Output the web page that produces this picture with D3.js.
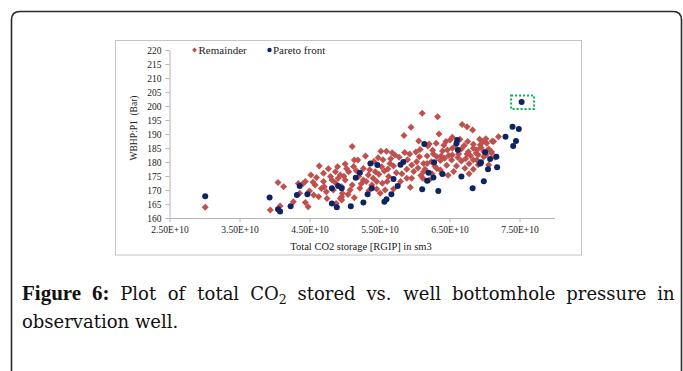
<!DOCTYPE html>
<html>
<head>
<meta charset="utf-8">
<script src="https://cdn.jsdelivr.net/npm/d3@7/dist/d3.min.js"></script>
<style>
  html, body { margin: 0; padding: 0; background: #fff; }
  svg { display: block; }
</style>
</head>
<body>
<svg id="chart" width="683" height="371"></svg>
<script>
// ---- data (x in sm3, y in bar) ----
const remainderX = [
  3.01e10,3.94e10,4.05e10,4.13e10,4.08e10,4.27e10,4.34e10,4.41e10,4.36e10,4.50e10,4.44e10,4.48e10,4.52e10,
  6.11e10,5.95e10,5.85e10,6.06e10,6.08e10,6.19e10,5.11e10,5.30e10,5.14e10,5.19e10,5.52e10,5.60e10,5.68e10,5.72e10,
  5.93e10,6.07e10,6.18e10,5.01e10,4.64e10,4.70e10,4.87e10,4.94e10,5.06e10,5.27e10,5.34e10,5.44e10,5.53e10,
  5.65e10,5.89e10,5.96e10,6.03e10,6.13e10,6.18e10,4.44e10,4.58e10,4.70e10,4.82e10,4.91e10,5.01e10,5.11e10,
  5.20e10,5.27e10,5.39e10,5.46e10,5.61e10,5.63e10,5.58e10,5.51e10,5.80e10,5.89e10,5.94e10,4.56e10,4.63e10,
  4.74e10,4.84e10,4.96e10,5.08e10,5.22e10,4.75e10,4.88e10,4.96e10,4.87e10,4.96e10,
  6.33e10,6.68e10,6.75e10,6.83e10,6.35e10,6.45e10,6.51e10,6.54e10,6.65e10,6.31e10,6.21e10,6.76e10,6.84e10,
  6.93e10,7.02e10,7.11e10,7.20e10,7.03e10,6.94e10,6.40e10,6.47e10,6.54e10,6.67e10,6.77e10,6.84e10,6.89e10,
  6.95e10,7.06e10,7.10e10,6.99e10,6.27e10,6.38e10,6.54e10,6.63e10,6.75e10,6.88e10,7.02e10,7.15e10,6.13e10,
  6.24e10,6.37e10,6.53e10,6.67e10,6.84e10,6.99e10,7.06e10,6.15e10,6.32e10,6.37e10,6.60e10,6.84e10,6.12e10,
  6.21e10,6.39e10,
  4.94e10,4.97e10,5.96e10,6.32e10,6.89e10,7.13e10,7.10e10,
  5.42e10,5.48e10,5.55e10,5.57e10,5.62e10,5.66e10,5.70e10,5.74e10,5.78e10,5.82e10,5.86e10,5.90e10,5.99e10,
  6.02e10,6.05e10,6.09e10,5.36e10,5.41e10,5.49e10,5.31e10,5.24e10,5.17e10,5.13e10,5.03e10,4.99e10,4.90e10,
  4.80e10,4.77e10,4.67e10,4.60e10,4.55e10,4.71e10,5.05e10,5.14e10,5.35e10,5.46e10,5.70e10,5.54e10,
  6.26e10,6.42e10,6.49e10,6.58e10,6.62e10,6.71e10,6.73e10,6.80e10,6.91e10,6.97e10,6.46e10,6.56e10,6.72e10,
  6.78e10,6.91e10,6.43e10,6.29e10,6.48e10,6.25e10,6.78e10
];
const remainderY = [
  163.8,162.9,172.7,171.2,164.3,165.8,172.3,172.3,168.8,169.6,165.5,164.0,175.4,
  197.4,192.4,189.5,187.5,184.5,185.7,185.5,182.1,180.7,180.7,183.8,183.8,183.3,182.5,
  182.9,181.9,182.1,179.3,178.6,176.0,176.5,175.4,176.5,177.7,175.4,176.5,178.3,
  179.5,177.4,178.9,180.1,176.5,179.5,173.0,171.8,173.0,173.6,174.2,173.6,171.8,
  174.8,173.6,171.8,173.0,173.0,174.8,170.0,168.8,173.0,174.2,171.0,168.2,167.6,
  169.4,170.0,167.6,170.0,170.6,167.0,165.2,166.4,172.6,171.2,
  196.2,193.4,192.6,191.4,190.0,187.3,187.9,188.8,188.1,186.7,186.4,187.3,186.3,
  188.1,188.3,187.4,189.0,186.7,186.1,183.9,184.3,184.9,184.6,183.7,184.9,184.3,
  185.1,184.6,183.7,183.7,182.9,182.1,182.5,182.9,182.9,183.1,182.5,181.7,179.5,
  180.1,180.5,180.7,180.4,180.7,181.9,178.9,177.4,177.7,177.1,178.6,177.4,174.2,
  173.6,175.9,
  167.0,168.8,174.2,181.9,180.7,187.3,183.1,
  180.2,181.5,180.8,176.8,177.5,181.2,178.6,176.2,181.7,175.8,183.4,180.8,176.6,
  183.6,177.9,175.2,177.2,174.2,175.6,173.0,172.2,176.9,178.4,177.6,174.9,178.3,
  174.8,177.6,170.5,174.5,172.8,171.2,168.4,167.2,169.8,170.4,170.4,172.4,
  184.2,186.0,182.3,185.7,181.6,185.9,181.2,182.2,182.6,187.2,178.8,176.6,177.8,
  179.4,179.0,181.3,178.5,175.3,175.8,175.8
];
const paretoX = [
  3.01e10,3.93e10,4.05e10,4.08e10,4.23e10,4.36e10,4.32e10,4.47e10,4.82e10,4.91e10,4.96e10,4.82e10,4.89e10,
  5.09e10,5.16e10,5.22e10,5.27e10,5.33e10,5.37e10,5.39e10,5.47e10,5.57e10,5.60e10,5.67e10,5.70e10,5.76e10,
  5.80e10,5.84e10,6.11e10,6.14e10,6.18e10,6.20e10,6.27e10,6.28e10,6.34e10,6.40e10,6.60e10,6.61e10,6.62e10,
  6.67e10,6.83e10,6.94e10,6.95e10,6.99e10,7.01e10,7.05e10,7.08e10,7.17e10,7.18e10,7.30e10,7.40e10,7.41e10,
  7.45e10,7.49e10,7.53e10
];
const paretoY = [
  167.8,167.3,163.1,162.3,164.2,171.4,168.2,168.5,170.6,171.4,170.6,165.2,163.8,
  164.2,174.4,176.2,165.5,168.5,179.5,170.6,178.9,165.8,166.7,168.5,173.9,171.4,
  179.0,180.0,170.3,186.4,173.3,176.2,174.5,179.9,169.6,175.7,186.7,187.9,184.3,
  174.8,170.6,179.5,179.9,173.1,183.5,177.4,181.1,181.9,178.1,189.0,192.6,185.7,
  187.5,191.8,201.4
];
const highlightPoint = [7.53e10, 201.4];
const xTickValues = [2.5e10, 3.5e10, 4.5e10, 5.5e10, 6.5e10, 7.5e10];
const yTickValues = [160,165,170,175,180,185,190,195,200,205,210,215,220];
const seriesNames = ["Remainder", "Pareto front"];
const axisTitles = ["Total CO2 storage [RGIP] in sm3", "WBHP:P1  (Bar)"];
const captionLabel = ["Figure", "6:"];
const captionLine1 = ["Plot", "of", "total", "CO|2", "stored", "vs.", "well", "bottomhole", "pressure", "in"];
const captionLine2 = "observation well.";

// ---- drawing ----
const svg = d3.select("#chart");
const RED = "#c0504d", BLUE = "#0c2461";
const serif = "'Liberation Serif', 'Times New Roman', serif";

// outer page frame
svg.append("path")
  .attr("d", "M11.5,380 V20 Q11.5,11.5 20,11.5 H673 Q681.5,11.5 681.5,20 V380")
  .attr("fill", "none").attr("stroke", "#2b2b2b").attr("stroke-width", 1.6);

// chart area frame
svg.append("rect").attr("x", 115.5).attr("y", 40.5).attr("width", 466).attr("height", 214.5)
  .attr("fill", "#fff").attr("stroke", "#c4c4c4").attr("stroke-width", 1);

const x = d3.scaleLinear().domain([2.5e10, 8.0e10]).range([169.5, 554.5]);
const y = d3.scaleLinear().domain([160, 220]).range([218, 50]);

const fmt = v => (v / 1e10).toFixed(2) + "E+10";

const gx = svg.append("g").attr("transform", "translate(0,218)")
  .call(d3.axisBottom(x).tickValues(xTickValues).tickFormat(fmt).tickSizeInner(4).tickSizeOuter(0).tickPadding(4));
const gy = svg.append("g").attr("transform", "translate(169.5,0)")
  .call(d3.axisLeft(y).tickValues(yTickValues).tickSizeInner(4).tickSizeOuter(0).tickPadding(4));
[gx, gy].forEach(g => {
  g.select(".domain").attr("stroke", "#b3b3b3");
  g.selectAll(".tick line").attr("stroke", "#b3b3b3");
  g.selectAll(".tick text").attr("fill", "#222").attr("font-family", serif).attr("font-size", 9.5);
});

// axis titles
svg.append("text").attr("x", 361).attr("y", 250).attr("text-anchor", "middle")
  .attr("font-family", serif).attr("font-size", 10.5).attr("fill", "#222").text(axisTitles[0]);
svg.append("text").attr("transform", "translate(137,128) rotate(-90)").attr("text-anchor", "middle")
  .attr("font-family", serif).attr("font-size", 9.5).attr("fill", "#222")
  .attr("xml:space", "preserve").style("white-space", "pre").text(axisTitles[1]);

// markers
const diamond = (s) => `M0,${-s}L${s},0L0,${s}L${-s},0Z`;
const remainder = d3.range(remainderX.length).map(i => [remainderX[i], remainderY[i]]);
const pareto = d3.range(paretoX.length).map(i => [paretoX[i], paretoY[i]]);

svg.append("g").selectAll("path").data(remainder).join("path")
  .attr("d", diamond(3.5))
  .attr("transform", d => `translate(${x(d[0])},${y(d[1])})`)
  .attr("fill", RED);

svg.append("g").selectAll("circle").data(pareto).join("circle")
  .attr("cx", d => x(d[0])).attr("cy", d => y(d[1])).attr("r", 3)
  .attr("fill", BLUE);

// highlight box
svg.append("rect")
  .attr("x", x(highlightPoint[0]) - 10.5).attr("y", y(highlightPoint[1]) - 6.5)
  .attr("width", 23).attr("height", 13.5)
  .attr("fill", "none").attr("stroke", "#00b050").attr("stroke-width", 2).attr("stroke-dasharray", "2,2");

// legend
const lg = svg.append("g");
lg.append("path").attr("d", diamond(2.4)).attr("transform", "translate(194.5,50)").attr("fill", RED);
lg.append("text").attr("x", 198.5).attr("y", 53.5).attr("font-family", serif).attr("font-size", 11)
  .attr("fill", "#222").text(seriesNames[0]);
lg.append("circle").attr("cx", 269.5).attr("cy", 50).attr("r", 2.2).attr("fill", BLUE);
lg.append("text").attr("x", 273).attr("y", 53.5).attr("font-family", serif).attr("font-size", 11)
  .attr("fill", "#222").text(seriesNames[1]);

// caption (justified first line)
const capFont = "'DejaVu Serif', serif";
const capSize = 18;
const words = [];
captionLabel.forEach(w => words.push({ w, bold: true }));
captionLine1.forEach(w => words.push({ w, bold: false }));
const cap = svg.append("g");
const nodes = words.map(o => {
  const t = cap.append("text").attr("y", 300)
    .attr("font-family", o.bold ? "'Liberation Serif', serif" : capFont)
    .attr("font-size", o.bold ? 21 : capSize)
    .attr("fill", "#111").attr("font-weight", o.bold ? "bold" : "normal");
  if (o.w.includes("|")) {
    const [a, b] = o.w.split("|");
    t.append("tspan").text(a);
    t.append("tspan").attr("font-size", capSize * 0.7).attr("dy", 4).text(b);
  } else {
    t.text(o.w);
  }
  return t;
});
const widths = nodes.map(t => t.node().getBBox().width);
const left = 22, right = 675;
const total = d3.sum(widths);
const gap = (right - left - total) / (nodes.length - 1);
let cx = left;
nodes.forEach((t, i) => { t.attr("x", cx); cx += widths[i] + gap; });

cap.append("text").attr("x", left).attr("y", 328).attr("font-family", capFont).attr("font-size", capSize)
  .attr("fill", "#111").text(captionLine2);
</script>
</body>
</html>
